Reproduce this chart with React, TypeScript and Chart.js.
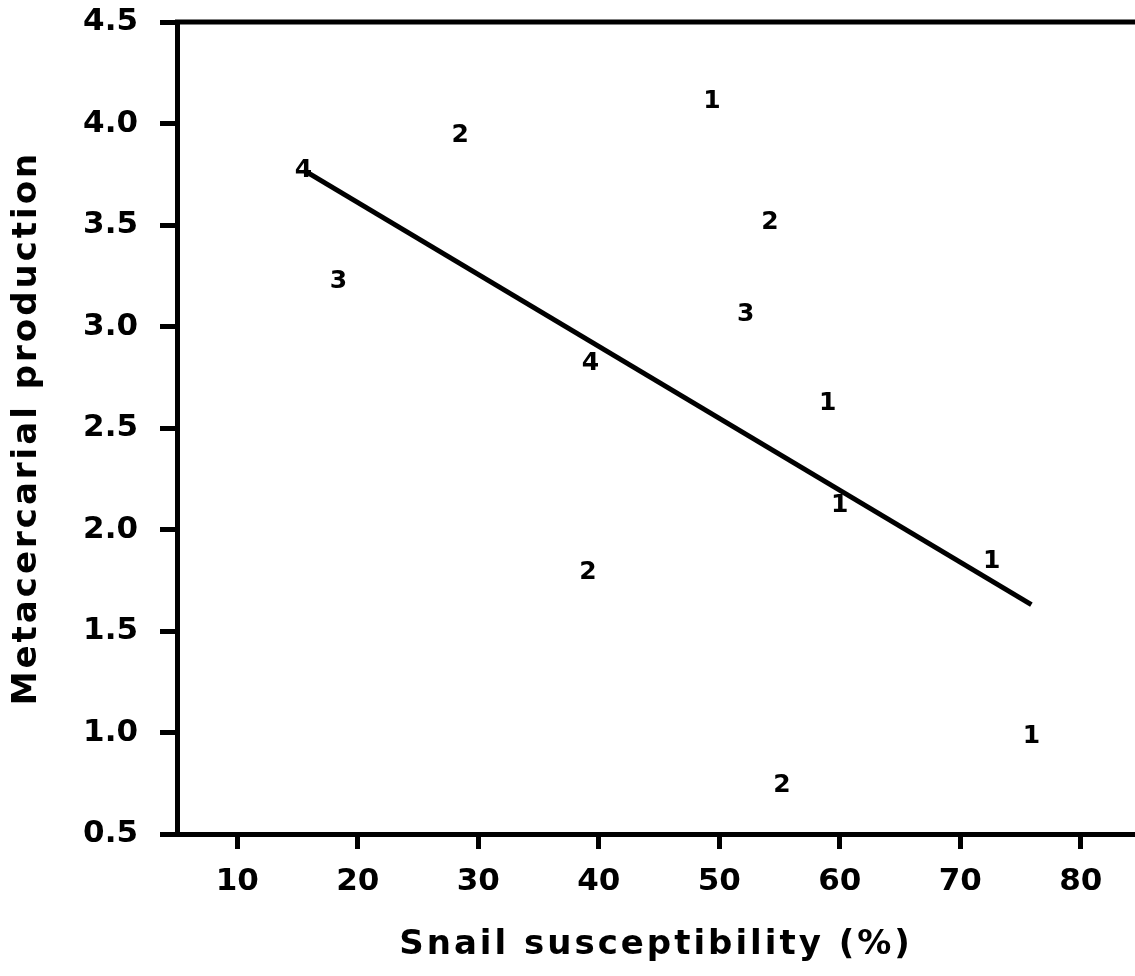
import React, { useEffect, useRef } from "react";
import { Chart, registerables } from "chart.js";

Chart.register(...registerables);

// Snail susceptibility (%) per population
const susceptibility = [15.5, 28.5, 49.4, 54.2, 18.4, 52.2, 39.3, 59.0, 60.0, 72.6, 39.1, 75.9, 55.2];
// Metacercarial production
const production = [3.77, 3.94, 4.11, 3.51, 3.22, 3.06, 2.82, 2.62, 2.12, 1.84, 1.79, 0.98, 0.74];
// Plotting symbol (digit) drawn at each point
const symbols = ["4", "2", "1", "2", "3", "3", "4", "1", "1", "1", "2", "1", "2"];

// Regression line end points
const regressionX = [15.5, 75.9];
const regressionY = [3.77, 1.63];

const xTicks = [10, 20, 30, 40, 50, 60, 70, 80];
const yTicks = [0.5, 1.0, 1.5, 2.0, 2.5, 3.0, 3.5, 4.0, 4.5];

const xTitle = "Snail susceptibility (%)";
const yTitle = "Metacercarial production";

const TICK_FONT = { family: "'DejaVu Sans', sans-serif", size: 31, weight: "bold" as const };
const TITLE_FONT = { family: "'DejaVu Sans', sans-serif", size: 34, weight: "bold" as const };

const symbolPlugin = {
  id: "symbolLabels",
  afterDatasetsDraw(chart: any) {
    const meta = chart.getDatasetMeta(0);
    const ctx = chart.ctx;
    ctx.save();
    ctx.fillStyle = "#000";
    ctx.font = "bold 25px 'DejaVu Sans', sans-serif";
    ctx.textAlign = "center";
    ctx.textBaseline = "middle";
    meta.data.forEach((el: any, i: number) => {
      ctx.fillText(symbols[i], el.x, el.y);
    });
    ctx.restore();
  },
};

const frameTopPlugin = {
  id: "frameTop",
  beforeDraw(chart: any) {
    Object.values(chart.scales).forEach((s: any) => {
      if (!s.__spaced) {
        const orig = s.drawTitle.bind(s);
        s.drawTitle = () => {
          const c = s.ctx;
          const prev = c.letterSpacing;
          c.letterSpacing = "3px";
          orig();
          c.letterSpacing = prev;
        };
        s.__spaced = true;
      }
    });
  },
  afterDraw(chart: any) {
    const { ctx, chartArea } = chart;
    ctx.save();
    ctx.strokeStyle = "#000";
    ctx.lineWidth = 5;
    ctx.beginPath();
    ctx.moveTo(chartArea.left - 2, chartArea.top);
    ctx.lineTo(chartArea.right, chartArea.top);
    ctx.stroke();
    ctx.restore();
  },
};

export default function App() {
  const ref = useRef<HTMLCanvasElement | null>(null);

  useEffect(() => {
    document.body.style.margin = "0";
    if (!ref.current) return;
    const points = susceptibility.map((x, i) => ({ x, y: production[i] }));
    const line = regressionX.map((x, i) => ({ x, y: regressionY[i] }));

    const chart = new Chart(ref.current, {
      type: "scatter",
      data: {
        datasets: [
          {
            type: "scatter",
            data: points,
            pointRadius: 0,
            pointHoverRadius: 0,
          },
          {
            type: "line",
            data: line,
            borderColor: "#000",
            borderWidth: 5,
            pointRadius: 0,
            fill: false,
            tension: 0,
          } as any,
        ],
      },
      options: {
        animation: false,
        responsive: false,
        events: [],
        layout: { padding: { top: 22, left: 0, right: 0, bottom: 0 } },
        plugins: {
          legend: { display: false },
          tooltip: { enabled: false },
        },
        scales: {
          x: {
            type: "linear",
            position: "bottom",
            min: 5,
            max: 84.5,
            afterBuildTicks: (s: any) => {
              s.ticks = xTicks.map((v) => ({ value: v }));
            },
            afterFit: (s: any) => {
              s.height = 142;
              s.paddingLeft = 0;
              s.paddingRight = 0;
            },
            ticks: {
              color: "#000",
              font: TICK_FONT,
              padding: 14,
              autoSkip: false,
              maxRotation: 0,
              callback: (v: any) => String(v),
            },
            grid: {
              drawOnChartArea: false,
              drawTicks: true,
              tickLength: 15,
              tickWidth: 5,
              tickColor: "#000",
            },
            border: { display: true, width: 5, color: "#000" },
            title: {
              display: true,
              text: xTitle,
              color: "#000",
              font: TITLE_FONT,
              padding: { top: 0, bottom: 10 },
            },
          },
          y: {
            type: "linear",
            position: "left",
            min: 0.5,
            max: 4.5,
            afterBuildTicks: (s: any) => {
              s.ticks = yTicks.map((v) => ({ value: v }));
            },
            afterFit: (s: any) => {
              s.width = 177;
              s.paddingTop = 0;
              s.paddingBottom = 0;
            },
            ticks: {
              color: "#000",
              font: TICK_FONT,
              padding: 22,
              autoSkip: false,
              callback: (v: any) => Number(v).toFixed(1),
            },
            grid: {
              drawOnChartArea: false,
              drawTicks: true,
              tickLength: 17,
              tickWidth: 5,
              tickColor: "#000",
            },
            border: { display: true, width: 5, color: "#000" },
            title: {
              display: true,
              text: yTitle,
              color: "#000",
              font: TITLE_FONT,
              padding: { top: 7, bottom: 0 },
            },
          },
        },
      },
      plugins: [symbolPlugin, frameTopPlugin],
    });
    return () => chart.destroy();
  }, []);

  return (
    <canvas
      ref={ref}
      width={1135}
      height={976}
      style={{ display: "block", width: 1135, height: 976 }}
    />
  );
}
